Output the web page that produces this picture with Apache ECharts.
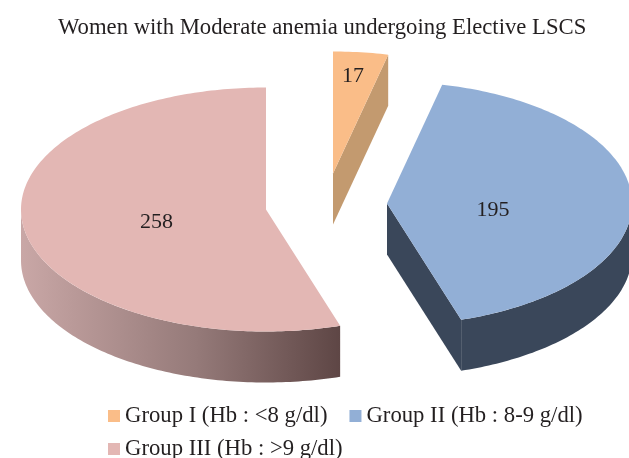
<!DOCTYPE html>
<html>
<head>
<meta charset="utf-8">
<style>html,body{margin:0;padding:0;background:#fff}#chart{width:629px;height:458px}</style>
<script src="https://cdn.jsdelivr.net/npm/echarts@6/dist/echarts.min.js"></script>
</head>
<body>
<div id="chart"></div>
<script>
var categories = ['Group I (Hb : <8 g/dl)', 'Group II (Hb : 8-9 g/dl)', 'Group III (Hb : >9 g/dl)'];
var values = [17, 195, 258];

var topColors = ['#fabd88', '#92afd6', '#e3b7b4'];
var faceColors = ['#c39a6f', '#3a475a', '#5e4645'];
var rimColors = [
  '#3a475a',
  '#3a475a',
  new echarts.graphic.LinearGradient(0, 0, 1, 0, [
    { offset: 0, color: '#c9a7a6' },
    { offset: 0.55, color: '#957a79' },
    { offset: 1, color: '#5e4645' }
  ])
];
// exploded centre of each slice, and where its number sits
var centers = [[333, 173.5], [387, 203.5], [266, 209.5]];
var labelAt = [[353, 76], [493, 210], [156.5, 222]];
var rx = 245, ry = 122, depth = 51;

var total = values.reduce(function (a, b) { return a + b; }, 0);

// angle is clockwise from 12 o'clock, in degrees
function pt(c, a, dy) {
  var r = a * Math.PI / 180;
  return [c[0] + rx * Math.sin(r), c[1] - ry * Math.cos(r) + (dy || 0)];
}
function arc(c, a0, a1, dy) {
  var pts = [];
  var n = Math.max(2, Math.ceil(Math.abs(a1 - a0)));
  for (var i = 0; i <= n; i++) pts.push(pt(c, a0 + (a1 - a0) * i / n, dy));
  return pts;
}
function poly(points, fill) {
  return { type: 'polygon', shape: { points: points }, style: { fill: fill } };
}

function sliceRenderer(idx) {
  var before = values.slice(0, idx).reduce(function (a, b) { return a + b; }, 0);
  return function () {
    var a0 = before / total * 360;
    var a1 = (before + values[idx]) / total * 360;
    var c = centers[idx];
    var kids = [];
    // cut faces, only the ones turned toward the viewer
    var edge = function (a) {
      var p = pt(c, a);
      var q = pt(c, a, depth);
      return [c, p, q, [c[0], c[1] + depth]];
    };
    if (Math.sin(a1 * Math.PI / 180) > 0.001) kids.push(poly(edge(a1), faceColors[idx]));
    if (Math.sin(a0 * Math.PI / 180) < -0.001) kids.push(poly(edge(a0), faceColors[idx]));
    // outer rim, front half of the ellipse
    var r0 = Math.max(a0, 90), r1 = Math.min(a1, 270);
    if (r1 > r0) {
      kids.push(poly(arc(c, r0, r1).concat(arc(c, r1, r0, depth)), rimColors[idx]));
    }
    // top
    kids.push(poly([c].concat(arc(c, a0, a1)), topColors[idx]));
    kids.push({
      type: 'text',
      style: {
        x: labelAt[idx][0], y: labelAt[idx][1],
        text: String(values[idx]),
        fill: '#231f20',
        font: '22px "Liberation Serif"',
        align: 'center', verticalAlign: 'middle'
      }
    });
    return { type: 'group', children: kids };
  };
}

var myChart = echarts.init(document.getElementById('chart'));

function legendRow(top, names, gap) {
  return {
    left: 108,
    top: top,
    padding: 0,
    itemWidth: 12,
    itemHeight: 12,
    itemGap: gap,
    icon: 'rect',
    selectedMode: false,
    textStyle: { fontFamily: 'Liberation Serif', fontSize: 22.7, color: '#231f20' },
    data: names
  };
}

var option = {
  animation: false,
  backgroundColor: '#fff',
  title: {
    text: 'Women with Moderate anemia undergoing Elective LSCS',
    left: 58,
    top: 17,
    padding: 0,
    textStyle: { fontFamily: 'Liberation Serif', fontSize: 22.7, fontWeight: 'normal', color: '#231f20' }
  },
  legend: [
    legendRow(404.5, categories.slice(0, 2), 22),
    legendRow(437.5, categories.slice(2), 22)
  ],
  series: categories.map(function (name, i) {
    return {
      type: 'custom',
      name: name,
      coordinateSystem: 'none',
      silent: true,
      itemStyle: { color: topColors[i] },
      data: [values[i]],
      renderItem: sliceRenderer(i)
    };
  })
};

myChart.setOption(option);
window.addEventListener('resize', function () {
  myChart.resize();
});
</script>
</body>
</html>
